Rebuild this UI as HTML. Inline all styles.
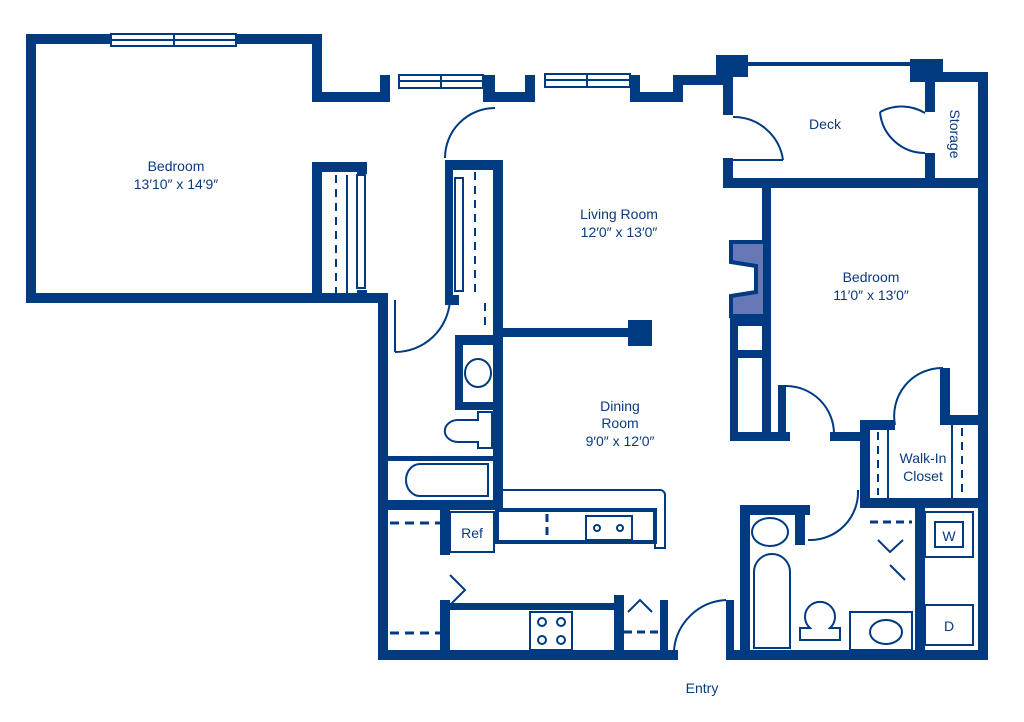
<!DOCTYPE html>
<html><head><meta charset="utf-8"><style>
html,body{margin:0;padding:0;background:#fff;width:1024px;height:722px;overflow:hidden}
svg{display:block}
text{font-family:"Liberation Sans",sans-serif;fill:#0a3a7e;font-size:14px}
</style></head><body>
<svg width="1024" height="722" viewBox="0 0 1024 722">
<g fill="#003a80">
<!-- left bedroom -->
<rect x="26" y="34" width="10" height="269"/>
<rect x="26" y="34" width="85" height="10"/>
<rect x="236" y="34" width="86" height="10"/>
<rect x="312" y="34" width="10" height="68"/>
<rect x="312" y="92" width="78" height="10"/>
<rect x="380" y="75" width="10" height="27"/>
<rect x="483" y="75" width="12" height="27"/>
<rect x="490" y="92" width="45" height="10"/>
<rect x="525" y="75" width="10" height="27"/>
<rect x="630" y="75" width="10" height="27"/>
<rect x="630" y="92" width="53" height="10"/>
<rect x="673" y="75" width="10" height="27"/>
<rect x="673" y="75" width="55" height="10"/>
<rect x="26" y="293" width="362" height="10"/>
<!-- closet -->
<rect x="312" y="162" width="10" height="141"/>
<rect x="312" y="162" width="55" height="10"/>
<rect x="357" y="162" width="10" height="12"/>
<rect x="357" y="290" width="10" height="13"/>
<!-- corridor -->
<rect x="378" y="293" width="10" height="367"/>
<rect x="378" y="650" width="300" height="10"/>
<rect x="493" y="160" width="10" height="340"/>
<rect x="445" y="160" width="58" height="10"/>
<rect x="445" y="170" width="8" height="125"/>
<rect x="445" y="295" width="14" height="10"/>
<rect x="503" y="328" width="130" height="9"/>
<rect x="628" y="320" width="24" height="26"/>
<rect x="455" y="335" width="40" height="10"/>
<rect x="455" y="335" width="8" height="75"/>
<rect x="455" y="402" width="40" height="8"/>
<rect x="378" y="456" width="125" height="5"/>
<rect x="378" y="500" width="125" height="10"/>
<rect x="440" y="500" width="10" height="55"/>
<rect x="440" y="600" width="10" height="60"/>
<rect x="450" y="603" width="170" height="7"/>
<rect x="614" y="595" width="10" height="65"/>
<rect x="660" y="600" width="8" height="60"/>
<!-- right side -->
<rect x="716" y="55" width="32" height="22"/>
<rect x="723" y="55" width="10" height="60"/>
<rect x="723" y="158" width="10" height="30"/>
<rect x="723" y="178" width="265" height="10"/>
<rect x="910" y="59" width="33" height="23"/>
<rect x="910" y="72" width="78" height="10"/>
<rect x="925" y="72" width="10" height="40"/>
<rect x="925" y="153" width="10" height="30"/>
<rect x="978" y="72" width="10" height="588"/>
<rect x="748" y="62" width="162" height="4"/>
<rect x="762" y="188" width="9" height="252"/>
<rect x="730" y="318" width="40" height="8"/>
<rect x="730" y="318" width="8" height="40"/>
<rect x="730" y="350" width="40" height="8"/>
<rect x="730" y="358" width="8" height="82"/>
<rect x="730" y="432" width="60" height="9"/>
<rect x="778" y="385" width="8" height="56"/>
<rect x="830" y="432" width="40" height="9"/>
<rect x="860" y="420" width="10" height="88"/>
<rect x="860" y="420" width="35" height="10"/>
<rect x="940" y="368" width="10" height="52"/>
<rect x="940" y="415" width="48" height="10"/>
<rect x="860" y="498" width="128" height="10"/>
<rect x="915" y="498" width="10" height="152"/>
<rect x="740" y="505" width="70" height="10"/>
<rect x="740" y="505" width="10" height="145"/>
<rect x="726" y="650" width="262" height="10"/>
<rect x="726" y="600" width="8" height="60"/>
<rect x="795" y="505" width="10" height="40"/>
</g>
<!-- fireplace -->
<path d="M731 242 H765 V316 H731 V296 L756 292 V266 L731 262 Z" fill="#6778b6" stroke="#003a80" stroke-width="4"/>
<g fill="none" stroke="#003a80" stroke-width="2">
<!-- windows -->
<rect x="111" y="34" width="125" height="12"/><line x1="174" y1="34" x2="174" y2="46"/><line x1="111" y1="40" x2="236" y2="40"/>
<rect x="399" y="75" width="84" height="13"/><line x1="441" y1="75" x2="441" y2="88"/><line x1="399" y1="81" x2="483" y2="81"/>
<rect x="545" y="74" width="85" height="13"/><line x1="587" y1="74" x2="587" y2="87"/><line x1="545" y1="80" x2="630" y2="80"/>
<!-- door arcs -->
<path d="M445 158 A50 50 0 0 1 495 108"/>
<path d="M733 117 A50 50 0 0 1 783 160"/><line x1="733" y1="160" x2="783" y2="160"/>
<path d="M925 113 A45 45 0 0 0 880 112 M880 112 A45 45 0 0 0 925 153"/>
<path d="M395 352 A55 55 0 0 0 450 300"/><line x1="395" y1="300" x2="395" y2="352"/>
<path d="M786 386 A48 48 0 0 1 834 434"/>
<path d="M895 425 A48 48 0 0 1 943 368"/>
<path d="M808 540 A48 48 0 0 0 858 490"/>
<path d="M674 650 A55 55 0 0 1 726 600"/>
<!-- closets dashed -->
<line x1="336" y1="175" x2="336" y2="293" stroke-dasharray="8 6"/>
<line x1="347" y1="175" x2="347" y2="293"/>
<rect x="357" y="175" width="8" height="113"/>
<line x1="475" y1="172" x2="475" y2="295" stroke-dasharray="8 6"/>
<rect x="455" y="178" width="8" height="113"/>
<line x1="485" y1="303" x2="485" y2="330" stroke-dasharray="8 6"/>
<!-- bath -->
<ellipse cx="478" cy="373" rx="13" ry="14"/>
<path d="M492 412 H478 V420 H458 A12 10 0 0 0 458 442 H478 V448 H492 Z"/>
<path d="M420 464 H488 V496 H420 A14 16 0 0 1 420 464 Z"/>
<line x1="390" y1="523" x2="440" y2="523" stroke-dasharray="9 6" stroke-width="3"/>
<line x1="390" y1="633" x2="440" y2="633" stroke-dasharray="9 6" stroke-width="3"/>
<!-- kitchen -->
<path d="M503 490 H660 A5 5 0 0 1 665 495 V548 H655 V510 H503"/>
<rect x="497" y="510" width="158" height="32" stroke-width="4"/>
<rect x="450" y="512" width="44" height="40"/>
<rect x="586" y="516" width="46" height="24"/>
<circle cx="597" cy="528" r="3"/><circle cx="620" cy="528" r="3"/>
<line x1="547" y1="514" x2="547" y2="540" stroke-dasharray="8 5" stroke-width="3"/>
<path d="M450 575 L465 590 L450 605"/>
<rect x="530" y="612" width="42" height="38"/>
<circle cx="542" cy="622" r="4"/><circle cx="561" cy="622" r="4"/><circle cx="542" cy="640" r="4"/><circle cx="561" cy="640" r="4"/>
<path d="M628 612 L640 600 L652 612"/>
<line x1="624" y1="632" x2="660" y2="632" stroke-dasharray="8 5" stroke-width="3"/>
<!-- right bath -->
<ellipse cx="770" cy="532" rx="18" ry="14"/>
<path d="M754 648 V572 A18 18 0 0 1 790 572 V648 Z"/>
<path d="M800 640 V628 H810 A15 15 0 1 1 830 628 H840 V640 Z"/>
<rect x="850" y="612" width="62" height="38"/>
<ellipse cx="886" cy="632" rx="16" ry="12"/>
<rect x="925" y="512" width="48" height="45"/>
<rect x="935" y="522" width="28" height="25"/>
<rect x="925" y="605" width="48" height="40"/>
<path d="M878 540 L890 552 L903 540 M890 565 L905 580"/>
<line x1="870" y1="522" x2="912" y2="522" stroke-dasharray="8 5" stroke-width="3"/>
<line x1="878" y1="432" x2="878" y2="495" stroke-dasharray="8 6"/>
<line x1="962" y1="428" x2="962" y2="495" stroke-dasharray="8 6"/>
<line x1="888" y1="430" x2="888" y2="498"/>
<line x1="952" y1="425" x2="952" y2="498"/>
</g>
<text x="176" y="171" text-anchor="middle">Bedroom</text>
<text x="176" y="189" text-anchor="middle">13′10″ x 14′9″</text>
<text x="619" y="219" text-anchor="middle">Living Room</text>
<text x="619" y="237" text-anchor="middle">12′0″ x 13′0″</text>
<text x="620" y="411" text-anchor="middle">Dining</text>
<text x="620" y="428" text-anchor="middle">Room</text>
<text x="620" y="446" text-anchor="middle">9′0″ x 12′0″</text>
<text x="871" y="282" text-anchor="middle">Bedroom</text>
<text x="871" y="300" text-anchor="middle">11′0″ x 13′0″</text>
<text x="825" y="129" text-anchor="middle">Deck</text>
<text x="950" y="134" transform="rotate(90 950 134)" text-anchor="middle">Storage</text>
<text x="923" y="463" text-anchor="middle" font-size="13">Walk-In</text>
<text x="923" y="481" text-anchor="middle" font-size="13">Closet</text>
<text x="472" y="538" text-anchor="middle" font-size="13">Ref</text>
<text x="949" y="541" text-anchor="middle" font-size="13">W</text>
<text x="949" y="631" text-anchor="middle" font-size="13">D</text>
<text x="702" y="693" text-anchor="middle">Entry</text>
</svg>
</body></html>
